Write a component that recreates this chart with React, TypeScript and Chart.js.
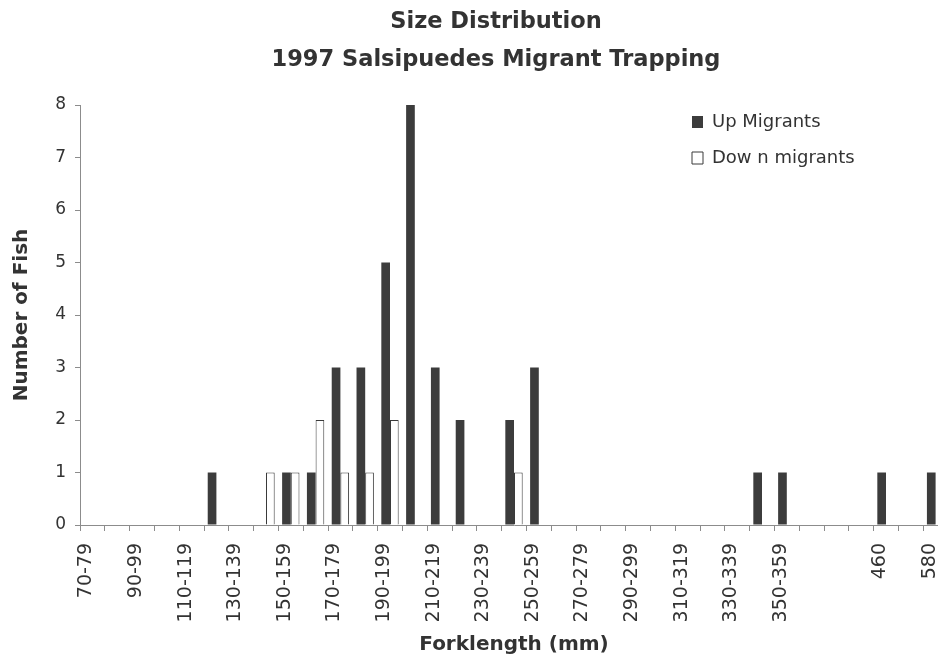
import React, { useEffect, useRef } from 'react';
import { Chart, registerables } from 'chart.js';

Chart.register(...registerables);

const titleLines = ['Size Distribution', '1997 Salsipuedes Migrant Trapping'];
const xAxisTitle = 'Forklength (mm)';
const yAxisTitle = 'Number of Fish';

const categories = [
  '70-79', '80-89', '90-99', '100-109', '110-119', '120-129', '130-139', '140-149',
  '150-159', '160-169', '170-179', '180-189', '190-199', '200-209', '210-219', '220-229',
  '230-239', '240-249', '250-259', '260-269', '270-279', '280-289', '290-299', '300-309',
  '310-319', '320-329', '330-339', '340-349', '350-359', '', '', '', '460', '', '580',
];

const upLabel = 'Up Migrants';
const upMigrants = [
  0, 0, 0, 0, 0, 1, 0, 0, 1, 1,
  3, 3, 5, 8, 3, 2, 0, 2, 3, 0,
  0, 0, 0, 0, 0, 0, 0, 1, 1, 0,
  0, 0, 1, 0, 1,
];

const downLabel = 'Dow n migrants';
const downMigrants = [
  0, 0, 0, 0, 0, 0, 0, 1, 1, 2,
  1, 1, 2, 0, 0, 0, 0, 1, 0, 0,
  0, 0, 0, 0, 0, 0, 0, 0, 0, 0,
  0, 0, 0, 0, 0,
];

const yMin = 0;
const yMax = 8;
const yStep = 1;

const FONT = "'DejaVu Sans', sans-serif";
const TEXT = '#333333';
const AXIS = '#8c8c8c';

const placePlugin = {
  id: 'placeBoxes',
  afterLayout(chart: any) {
    const t = chart.titleBlock;
    if (t) {
      t.left += 22;
      t.right += 22;
    }
    const lg = chart.legend;
    if (lg) {
      const w = lg.width;
      const h = lg.height;
      lg.left = 674;
      lg.right = 674 + w;
      lg.top = 95;
      lg.bottom = 95 + h;
    }
  },
};

export default function App() {
  const ref = useRef<HTMLCanvasElement | null>(null);

  useEffect(() => {
    if (!ref.current) return;
    const chart = new Chart(ref.current, {
      type: 'bar',
      data: {
        labels: categories,
        datasets: [
          {
            label: upLabel,
            data: upMigrants,
            backgroundColor: '#3c3c3c',
            borderColor: '#3c3c3c',
            borderWidth: 0,
            categoryPercentage: 0.7,
            barPercentage: 1.0,
          },
          {
            label: downLabel,
            data: downMigrants,
            backgroundColor: '#ffffff',
            borderColor: '#3a3a3a',
            borderWidth: 1,
            categoryPercentage: 0.7,
            barPercentage: 1.0,
          },
        ],
      },
      options: {
        responsive: false,
        animation: false,
        devicePixelRatio: 1,
        layout: { padding: { top: 0, right: 2, bottom: 0, left: 0 } },
        plugins: {
          title: {
            display: true,
            text: titleLines,
            color: TEXT,
            font: { family: FONT, size: 22.5, weight: 'bold', lineHeight: '38px' },
            padding: { top: 3, bottom: 26 },
          },
          legend: {
            display: true,
            position: 'chartArea',
            align: 'start',
            labels: {
              color: TEXT,
              font: { family: FONT, size: 18 },
              boxWidth: 11,
              boxHeight: 12,
              padding: 18,
            },
          },
          tooltip: { enabled: false },
        },
        scales: {
          x: {
            grid: {
              display: true,
              drawOnChartArea: false,
              drawTicks: true,
              tickLength: 6,
              color: AXIS,
            },
            border: { display: true, color: AXIS, width: 1 },
            ticks: {
              autoSkip: false,
              minRotation: 90,
              maxRotation: 90,
              padding: 12,
              labelOffset: -6,
              color: TEXT,
              font: { family: FONT, size: 19 },
              callback: (_v: any, index: number) => (index % 2 === 0 ? categories[index] : ''),
            },
            title: {
              display: true,
              text: xAxisTitle,
              color: TEXT,
              font: { family: FONT, size: 20, weight: 'bold' },
              padding: { top: 0, bottom: 2 },
            },
            afterFit: (scale: any) => {
              scale.height = 134;
              scale.paddingLeft = 0;
              scale.paddingRight = 0;
            },
          },
          y: {
            min: yMin,
            max: yMax,
            grid: {
              display: true,
              drawOnChartArea: false,
              drawTicks: true,
              tickLength: 5,
              color: AXIS,
            },
            border: { display: true, color: AXIS, width: 1 },
            ticks: {
              stepSize: yStep,
              padding: 9,
              color: TEXT,
              font: { family: FONT, size: 17 },
            },
            title: {
              display: true,
              text: yAxisTitle,
              color: TEXT,
              font: { family: FONT, size: 20, weight: 'bold' },
              padding: { top: 10, bottom: 0 },
            },
            afterFit: (scale: any) => {
              scale.width = 80;
            },
          },
        },
      },
      plugins: [placePlugin],
    } as any);
    return () => chart.destroy();
  }, []);

  return (
    <div
      style={{
        position: 'absolute',
        left: 0,
        top: 0,
        width: 938,
        height: 659,
        overflow: 'hidden',
        background: '#ffffff',
      }}
    >
      <canvas ref={ref} width={950} height={659} style={{ display: 'block', width: 950, height: 659 }} />
    </div>
  );
}
